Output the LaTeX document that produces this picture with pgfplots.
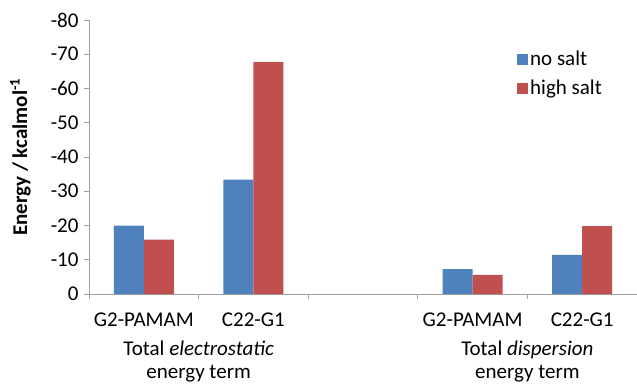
\documentclass[border=0pt]{standalone}
\usepackage{fontspec}
\setmainfont{Carlito}
\usepackage{pgfplots}
\pgfplotsset{compat=1.18}
\definecolor{blueC}{HTML}{4F81BD}
\definecolor{redC}{HTML}{C0504D}
\definecolor{axC}{HTML}{A0A0A0}
\newcommand{\fs}{\fontsize{21bp}{24bp}\selectfont}
\begin{document}
\begin{tikzpicture}
\path[use as bounding box] (0,0) rectangle (637bp,385bp);
\begin{axis}[
  at={(89bp,91bp)}, anchor=south west,
  scale only axis, width=548bp, height=274bp,
  xmin=-0.5, xmax=4.5,
  ymin=-80, ymax=0, y dir=reverse,
  ytick={-80,-70,...,0},
  /pgf/number format/assume math mode=true,
  axis x line*=bottom, axis y line*=left,
  axis line style={axC, line width=0.9bp, -},
  xtick={0,1,3,4},
  xticklabels={G2-PAMAM,C22-G1,G2-PAMAM,C22-G1},
  major x tick style={draw=none},
  minor xtick={-0.5,0.5,...,4.5},
  minor x tick style={axC, line width=0.9bp},
  minor tick length=5bp,
  major tick length=5bp,
  ytick style={axC, line width=0.9bp},
  tick align=outside,
  tick label style={font=\fs},
  xticklabel style={yshift=-10bp},
  yticklabel style={xshift=-2bp},
  ylabel={\textbf{Energy / kcalmol\textsuperscript{-1}}},
  ylabel style={at={(axis description cs:-0.125,0.5)}, anchor=center, font=\fs},
  ybar=0pt, bar width=30bp,
  legend style={at={(axis description cs:0.781,0.895)}, anchor=north west, draw=none, fill=none,
    row sep=9bp, font=\fs, inner sep=0pt, nodes={inner sep=2bp}},
  legend cell align=left,
  legend image code/.code={\path[#1,draw=none] (0bp,-5.5bp) rectangle (11bp,5.5bp);},
  clip=false,
]
\addplot[fill=blueC, draw=none] coordinates {(0,-20) (1,-33.4) (3,-7.3) (4,-11.4)};
\addplot[fill=redC, draw=none] coordinates {(0,-15.9) (1,-67.8) (3,-5.6) (4,-19.8)};
\legend{no salt, high salt}
\node[align=center, anchor=north, font=\fontsize{21bp}{22.5bp}\selectfont, inner sep=0pt] at (axis cs:0.5,0) [yshift=-47bp] {Total \textit{electrostatic}\\energy term};
\node[align=center, anchor=north, font=\fontsize{21bp}{22.5bp}\selectfont, inner sep=0pt] at (axis cs:3.5,0) [yshift=-47bp] {Total \textit{dispersion}\\energy term};
\end{axis}
\end{tikzpicture}
\end{document}
